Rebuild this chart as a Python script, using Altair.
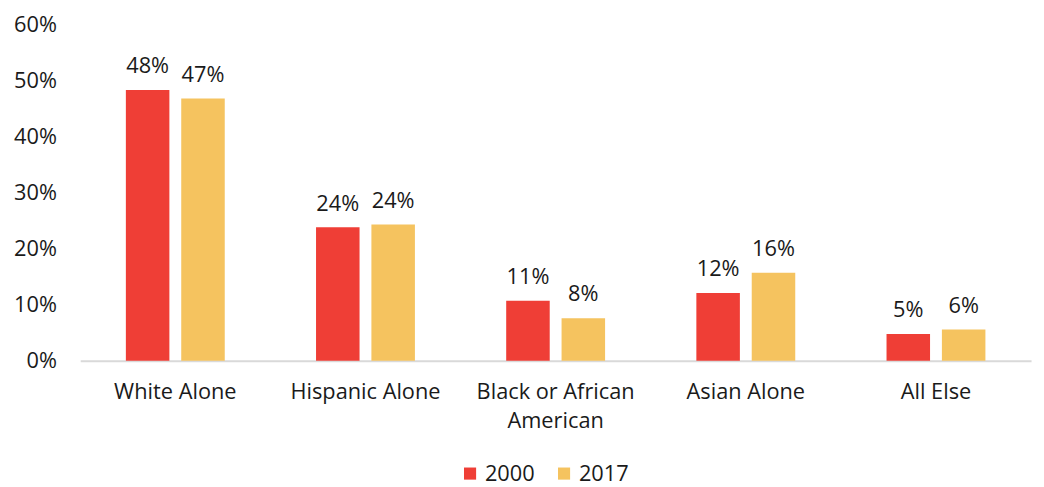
import altair as alt
import pandas as pd

categories = ["White Alone", "Hispanic Alone", "Black or African American", "Asian Alone", "All Else"]
years = ["2000", "2017"]
values_2000 = [48.3, 23.8, 10.7, 12.1, 4.8]
values_2017 = [46.8, 24.3, 7.6, 15.7, 5.6]
colors = ["#EF3E36", "#F5C35F"]

rows = []
for c, a, b in zip(categories, values_2000, values_2017):
    rows.append({"cat": c, "year": "2000", "v": a})
    rows.append({"cat": c, "year": "2017", "v": b})
df = pd.DataFrame(rows)

FONT = "Open Sans"
FS = 22
TXT = "#1a1a1a"

x = alt.X("cat:N", sort=categories, title=None,
          scale=alt.Scale(paddingInner=0.48, paddingOuter=0.24),
          axis=alt.Axis(labelAngle=0, labelFontSize=FS, labelColor=TXT, labelFont=FONT,
                        ticks=False, domainColor="#d9d9d9", domainWidth=2, labelPadding=21,
                        labelLimit=300, labelLineHeight=29,
                        labelExpr="datum.label == 'Black or African American' ? ['Black or African', 'American'] : datum.label"))
xo = alt.XOffset("year:N", sort=years, scale=alt.Scale(paddingInner=0.214, paddingOuter=0))

base = alt.Chart(df).encode(x=x, xOffset=xo)

bars = base.mark_bar().encode(
    y=alt.Y("v:Q", title=None, scale=alt.Scale(domain=[0, 60]),
            axis=alt.Axis(values=[0, 10, 20, 30, 40, 50, 60], labelExpr="datum.value + '%'",
                          labelFontSize=FS, labelColor=TXT, labelFont=FONT, grid=False,
                          domain=False, ticks=False, labelPadding=24)),
    color=alt.Color("year:N", sort=years, scale=alt.Scale(domain=years, range=colors),
                    legend=alt.Legend(title=None, orient="none", legendX=383, legendY=443,
                                      direction="horizontal",
                                      symbolType="square", symbolSize=150, symbolStrokeWidth=0,
                                      labelFontSize=FS, labelFont=FONT, labelColor=TXT,
                                      columnPadding=18, symbolOpacity=1, labelOffset=4)),
)

labels = base.mark_text(dy=-24, fontSize=FS, font=FONT, color=TXT).transform_calculate(
    lbl="format(datum.v, '.0f') + '%'"
).encode(y=alt.Y("v:Q"), text="lbl:N")

chart = alt.layer(bars, labels).properties(
    width=961, height=340, background="white",
    padding={"left": 5, "right": 5, "top": 3, "bottom": 0}
).configure_view(strokeWidth=0)

chart.save("out.html", embed_options={"renderer": "svg", "actions": False})
